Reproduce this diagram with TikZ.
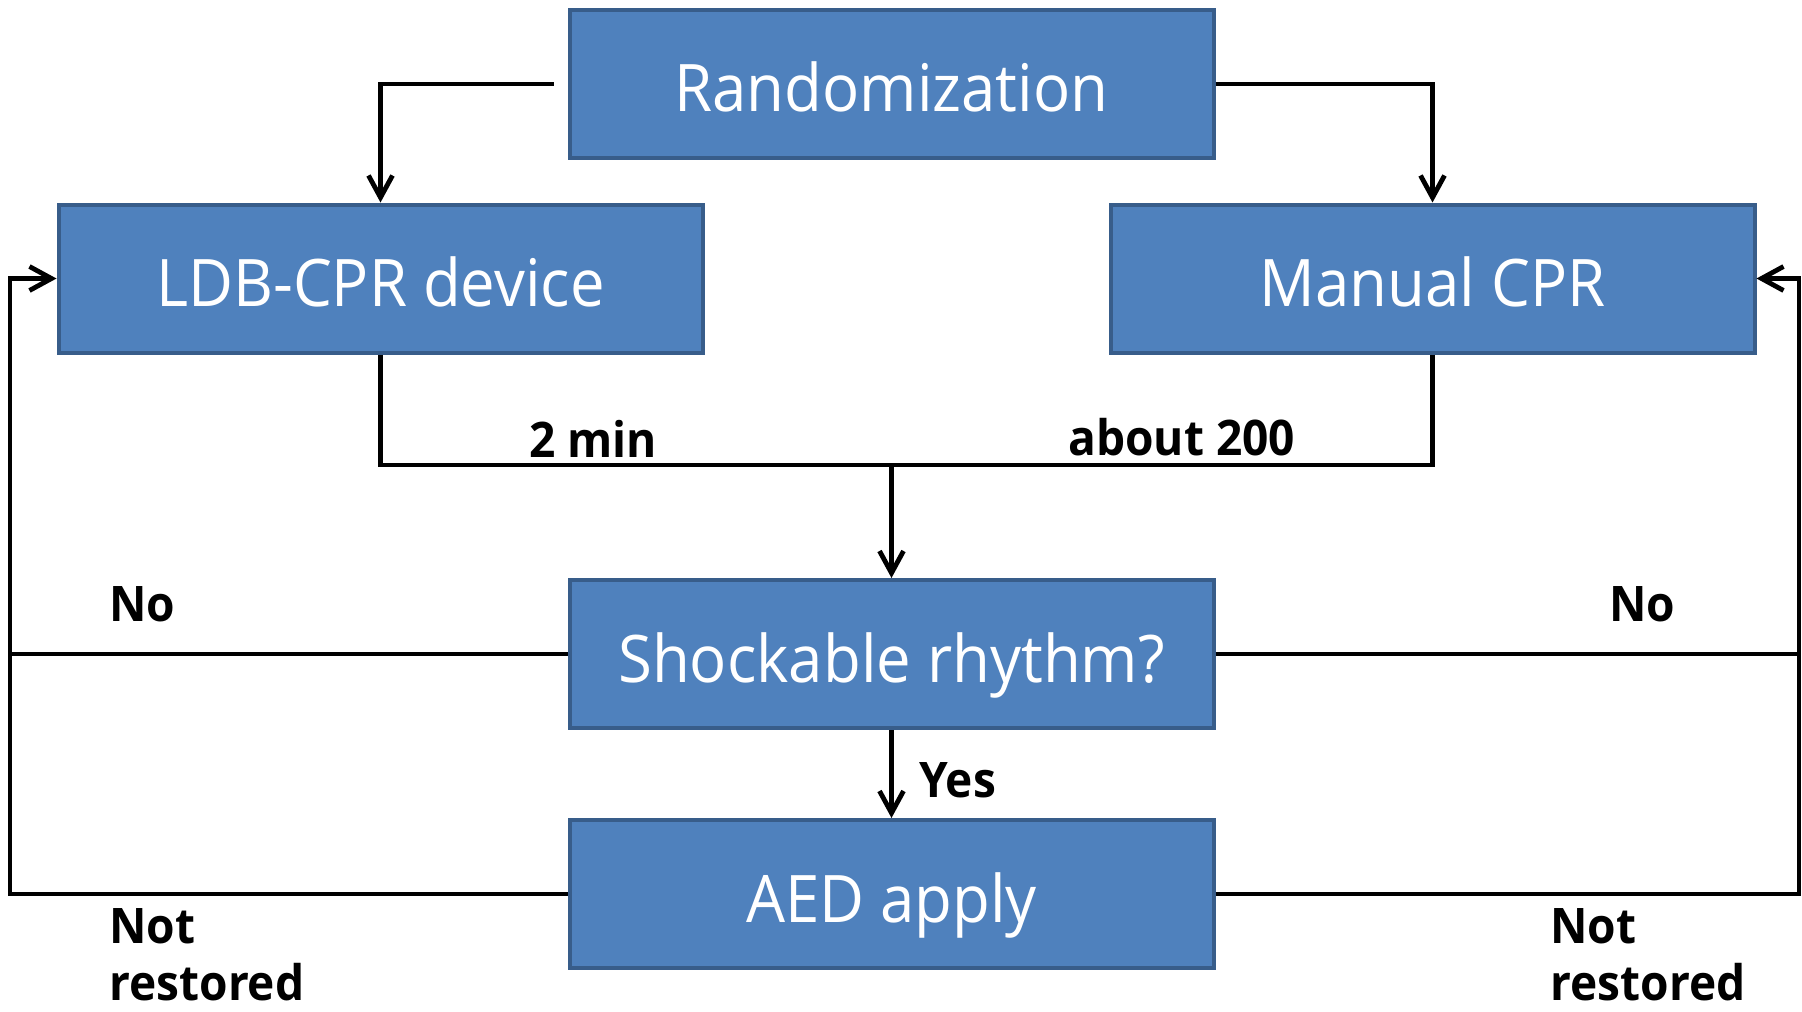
\documentclass[tikz,border=0pt]{standalone}
\usepackage{fontspec}
\setmainfont[FakeStretch=0.94]{Open Sans}
\usetikzlibrary{arrows.meta, positioning}
\definecolor{boxblue}{HTML}{4F81BD}
\definecolor{boxline}{HTML}{385D8A}

\begin{document}
\begin{tikzpicture}[x=0.5pt, y=-0.5pt,
    box/.style={rectangle, draw=boxline, fill=boxblue, line width=2pt,
        minimum width=322pt, minimum height=74pt, text=white,
        text height=29pt, text depth=1pt,
        font=\fontsize{32.8}{38}\selectfont},
    lbl/.style={font=\fontsize{24.5}{28.5}\selectfont\bfseries,
        inner sep=0pt, align=left},
    wire/.style={line width=2.4pt},
    flow/.style={wire, -{Straight Barb[length=11pt, width=12pt, line width=2.4pt]}}]
    \useasboundingbox (0,0) rectangle (1802,1011);

    % Add the boxes
        \node[box] (rand) at (891.5,84) {Randomization};
        \node[box] (ldb) at (380.5,278.5) {LDB-CPR device};
        \node[box,
            right=202pt of ldb
            ] (manual) {Manual CPR};
        \node[box,
            below=209pt of rand
            ] (shock) {Shockable rhythm?};
        \node[box,
            below=44pt of shock
            ] (aed) {AED apply};

        \coordinate (merge) at (891.5,465);
        \coordinate (lft) at (10,0);
        \coordinate (rgt) at (1799,0);

    % Labels
        \node[lbl, anchor=base west] (tmin) at (529,457) {2 min};
        \node[lbl, anchor=base west] (tabout) at (1068,455) {about 200};
        \node[lbl, anchor=base west] (noleft) at (109,621) {No};
        \node[lbl, anchor=base west] (noright) at (1609,621) {No};
        \node[lbl, anchor=base west] (yes) at (919,797) {Yes};
        \node[lbl, anchor=base west] (nrleft) at (109,1000) {Not\\restored};
        \node[lbl, anchor=base west] (nrright) at (1550,1000) {Not\\restored};

    % Connectors
        \draw[flow] ([xshift=-7pt]rand.west) -| (ldb.north);
        \draw[flow] (rand.east) -| (manual.north);
        \draw[wire] (ldb.south) |- (merge) -| (manual.south);
        \draw[flow] (merge) -- (shock.north);
        \draw[flow] (shock.south) -- (aed.north);
        \draw[wire] (shock.west) -- (shock.west -| lft);
        \draw[flow] (aed.west) -| (lft |- ldb.west) -- (ldb.west);
        \draw[wire] (shock.east) -- (shock.east -| rgt);
        \draw[flow] (aed.east) -| (rgt |- manual.east) -- (manual.east);
\end{tikzpicture}
\end{document}
